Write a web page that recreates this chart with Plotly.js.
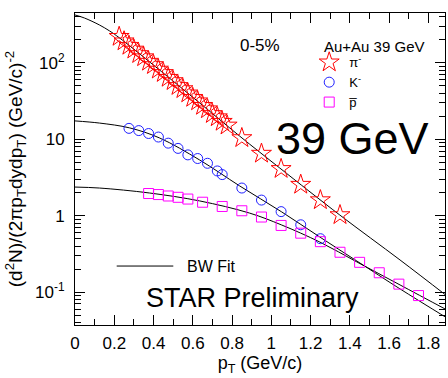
<!DOCTYPE html>
<html>
<head>
<meta charset="utf-8">
<script src="https://cdn.plot.ly/plotly-3.0.1.min.js"></script>
<style>
  html, body { margin: 0; padding: 0; background: #fff; }
  #chart { width: 448px; height: 378px; }
</style>
</head>
<body>
<div id="chart"></div>
<script>
// Identified particle spectra, Au+Au 39 GeV, 0-5% centrality

// pi- data
const piPt = [0.225, 0.25, 0.275, 0.3, 0.325, 0.35, 0.375, 0.4, 0.425, 0.45, 0.475, 0.5,
              0.525, 0.55, 0.575, 0.6, 0.625, 0.65, 0.675, 0.7, 0.725, 0.75, 0.775,
              0.85, 0.95, 1.05, 1.15, 1.25, 1.35];
const piYield = [220, 192, 168, 150, 131, 119, 104, 94, 82, 74, 64, 58,
                 50, 45.5, 40, 35, 31.5, 27.5, 24.8, 21.5, 19.5, 17, 15.2,
                 10.4, 6.5, 4.1, 2.55, 1.6, 1.02];

// K- data
const kPt = [0.275, 0.325, 0.375, 0.425, 0.475, 0.525, 0.575, 0.625, 0.675, 0.725, 0.75,
             0.85, 0.95, 1.05, 1.15, 1.25];
const kYield = [13.9, 13.0, 11.9, 10.7, 8.9, 7.6, 6.25, 5.6, 4.85, 3.85, 3.45,
                2.3, 1.6, 1.13, 0.76, 0.50];

// anti-proton data
const pbarPt = [0.375, 0.425, 0.475, 0.525, 0.575, 0.65, 0.75, 0.85, 0.95, 1.05,
                1.15, 1.25, 1.35, 1.45, 1.55, 1.65, 1.75];
const pbarYield = [1.95, 1.89, 1.81, 1.74, 1.65, 1.50, 1.32, 1.16, 0.96, 0.745,
                   0.59, 0.457, 0.332, 0.245, 0.179, 0.127, 0.090];

// Blast-wave fit curves (sampled)
const piFitPt = [0, 0.048, 0.125, 0.176, 0.227, 0.38, 0.635, 0.839, 1.043, 1.349, 1.656, 1.895];
const piFitYield = [424, 387, 313, 262, 212, 103, 29.9, 11.0, 4.21, 1.02, 0.263, 0.0889];
const kFitPt = [0, 0.125, 0.278, 0.431, 0.635, 0.839, 1.053, 1.247, 1.436, 1.656, 1.895];
const kFitYield = [17.4, 16.3, 14.1, 10.4, 5.36, 2.45, 1.12, 0.526, 0.255, 0.110, 0.0458];
const pbarFitPt = [0, 0.125, 0.38, 0.635, 0.89, 1.053, 1.247, 1.436, 1.656, 1.895];
const pbarFitYield = [2.37, 2.30, 1.98, 1.56, 1.08, 0.755, 0.452, 0.248, 0.124, 0.0583];

// Axis tick labels
const xTickStep = 0.2;
const yTickVals = [0.1, 1, 10, 100];
const yTickText = ['10<sup>-1</sup>', '1', '10', '10<sup>2</sup>'];

// log minor ticks: 2..9 within each decade
const yMinor = [];
for (let e = -2; e <= 2; e++) {
  for (let m = 2; m <= 9; m++) yMinor.push(m * Math.pow(10, e));
}

const fitLine = { color: '#000', width: 1, shape: 'spline', smoothing: 1 };

const traces = [
  { x: piFitPt, y: piFitYield, mode: 'lines', line: fitLine, showlegend: false, hoverinfo: 'skip' },
  { x: kFitPt, y: kFitYield, mode: 'lines', line: fitLine, showlegend: false, hoverinfo: 'skip' },
  { x: pbarFitPt, y: pbarFitYield, mode: 'lines', line: fitLine, showlegend: false, hoverinfo: 'skip' },
  { x: piPt, y: piYield, mode: 'markers', name: 'π<sup>-</sup>',
    marker: { symbol: 'star-open', size: 15, color: '#ff0000', line: { width: 1, color: '#ff0000' } } },
  { x: kPt, y: kYield, mode: 'markers', name: 'K<sup>-</sup>',
    marker: { symbol: 'circle-open', size: 10, color: '#2020ff', line: { width: 1, color: '#2020ff' } } },
  { x: pbarPt, y: pbarYield, mode: 'markers', name: 'p\u0305',
    marker: { symbol: 'square-open', size: 10, color: '#ff00ff', line: { width: 1, color: '#ff00ff' } } }
];

const font = 'Liberation Sans, Arial, Helvetica, sans-serif';

const layout = {
  width: 448, height: 378,
  margin: { l: 75, r: 3, t: 13, b: 53 },
  paper_bgcolor: '#fff', plot_bgcolor: '#fff',
  font: { family: font, color: '#000', size: 17 },
  xaxis: {
    range: [0, 1.885], tick0: 0, dtick: xTickStep,
    ticks: 'inside', ticklen: 10, tickwidth: 1, tickcolor: '#000',
    minor: { dtick: 0.1, ticks: 'inside', ticklen: 6, tickcolor: '#000', showgrid: false },
    showline: true, linecolor: '#000', linewidth: 1, mirror: 'ticks',
    showgrid: false, zeroline: false,
    tickfont: { size: 17 }, ticklabelstandoff: 3,
    title: { text: 'p<sub>T</sub> (GeV/c)', font: { size: 18 }, standoff: 3 }
  },
  yaxis: {
    type: 'log', range: [-1.431, 2.653],
    tickmode: 'array', tickvals: yTickVals, ticktext: yTickText,
    ticks: 'inside', ticklen: 10, tickwidth: 1, tickcolor: '#000',
    minor: { tickmode: 'array', tickvals: yMinor, ticks: 'inside', ticklen: 6, tickcolor: '#000', showgrid: false },
    showline: true, linecolor: '#000', linewidth: 1, mirror: 'ticks',
    showgrid: false, zeroline: false,
    tickfont: { size: 17 }, ticklabelstandoff: 6,
    title: { text: '(d<sup>2</sup>N)/(2πp<sub>T</sub>dydp<sub>T</sub>) (GeV/c)<sup>-2</sup>', font: { size: 19 }, standoff: 7 }
  },
  legend: {
    x: 0.633, y: 0.89, xanchor: 'left', yanchor: 'top',
    bgcolor: 'rgba(0,0,0,0)', borderwidth: 0,
    font: { size: 13 }, tracegroupgap: 0
  },
  annotations: [
    { xref: 'paper', yref: 'paper', x: 0.5, y: 0.897, text: '0-5%', showarrow: false,
      font: { size: 17 }, xanchor: 'center', yanchor: 'middle' },
    { xref: 'paper', yref: 'paper', x: 0.6676, y: 0.894, text: 'Au+Au 39 GeV', showarrow: false,
      font: { size: 15 }, xanchor: 'left', yanchor: 'middle' },
    { xref: 'paper', yref: 'paper', x: 0.749, y: 0.599, text: '39 GeV', showarrow: false,
      font: { size: 45 }, xanchor: 'center', yanchor: 'middle' },
    { xref: 'paper', yref: 'paper', x: 0.48, y: 0.0865, text: 'STAR Preliminary', showarrow: false,
      font: { size: 27 }, xanchor: 'center', yanchor: 'middle' },
    { xref: 'paper', yref: 'paper', x: 0.297, y: 0.189, text: 'BW Fit', showarrow: false,
      font: { size: 16 }, xanchor: 'left', yanchor: 'middle' }
  ],
  shapes: [
    { type: 'line', xref: 'paper', yref: 'paper', x0: 0.1127, x1: 0.2657, y0: 0.189, y1: 0.189,
      line: { color: '#000', width: 1 } }
  ]
};

Plotly.newPlot('chart', traces, layout, { displayModeBar: false, staticPlot: true });
</script>
</body>
</html>
